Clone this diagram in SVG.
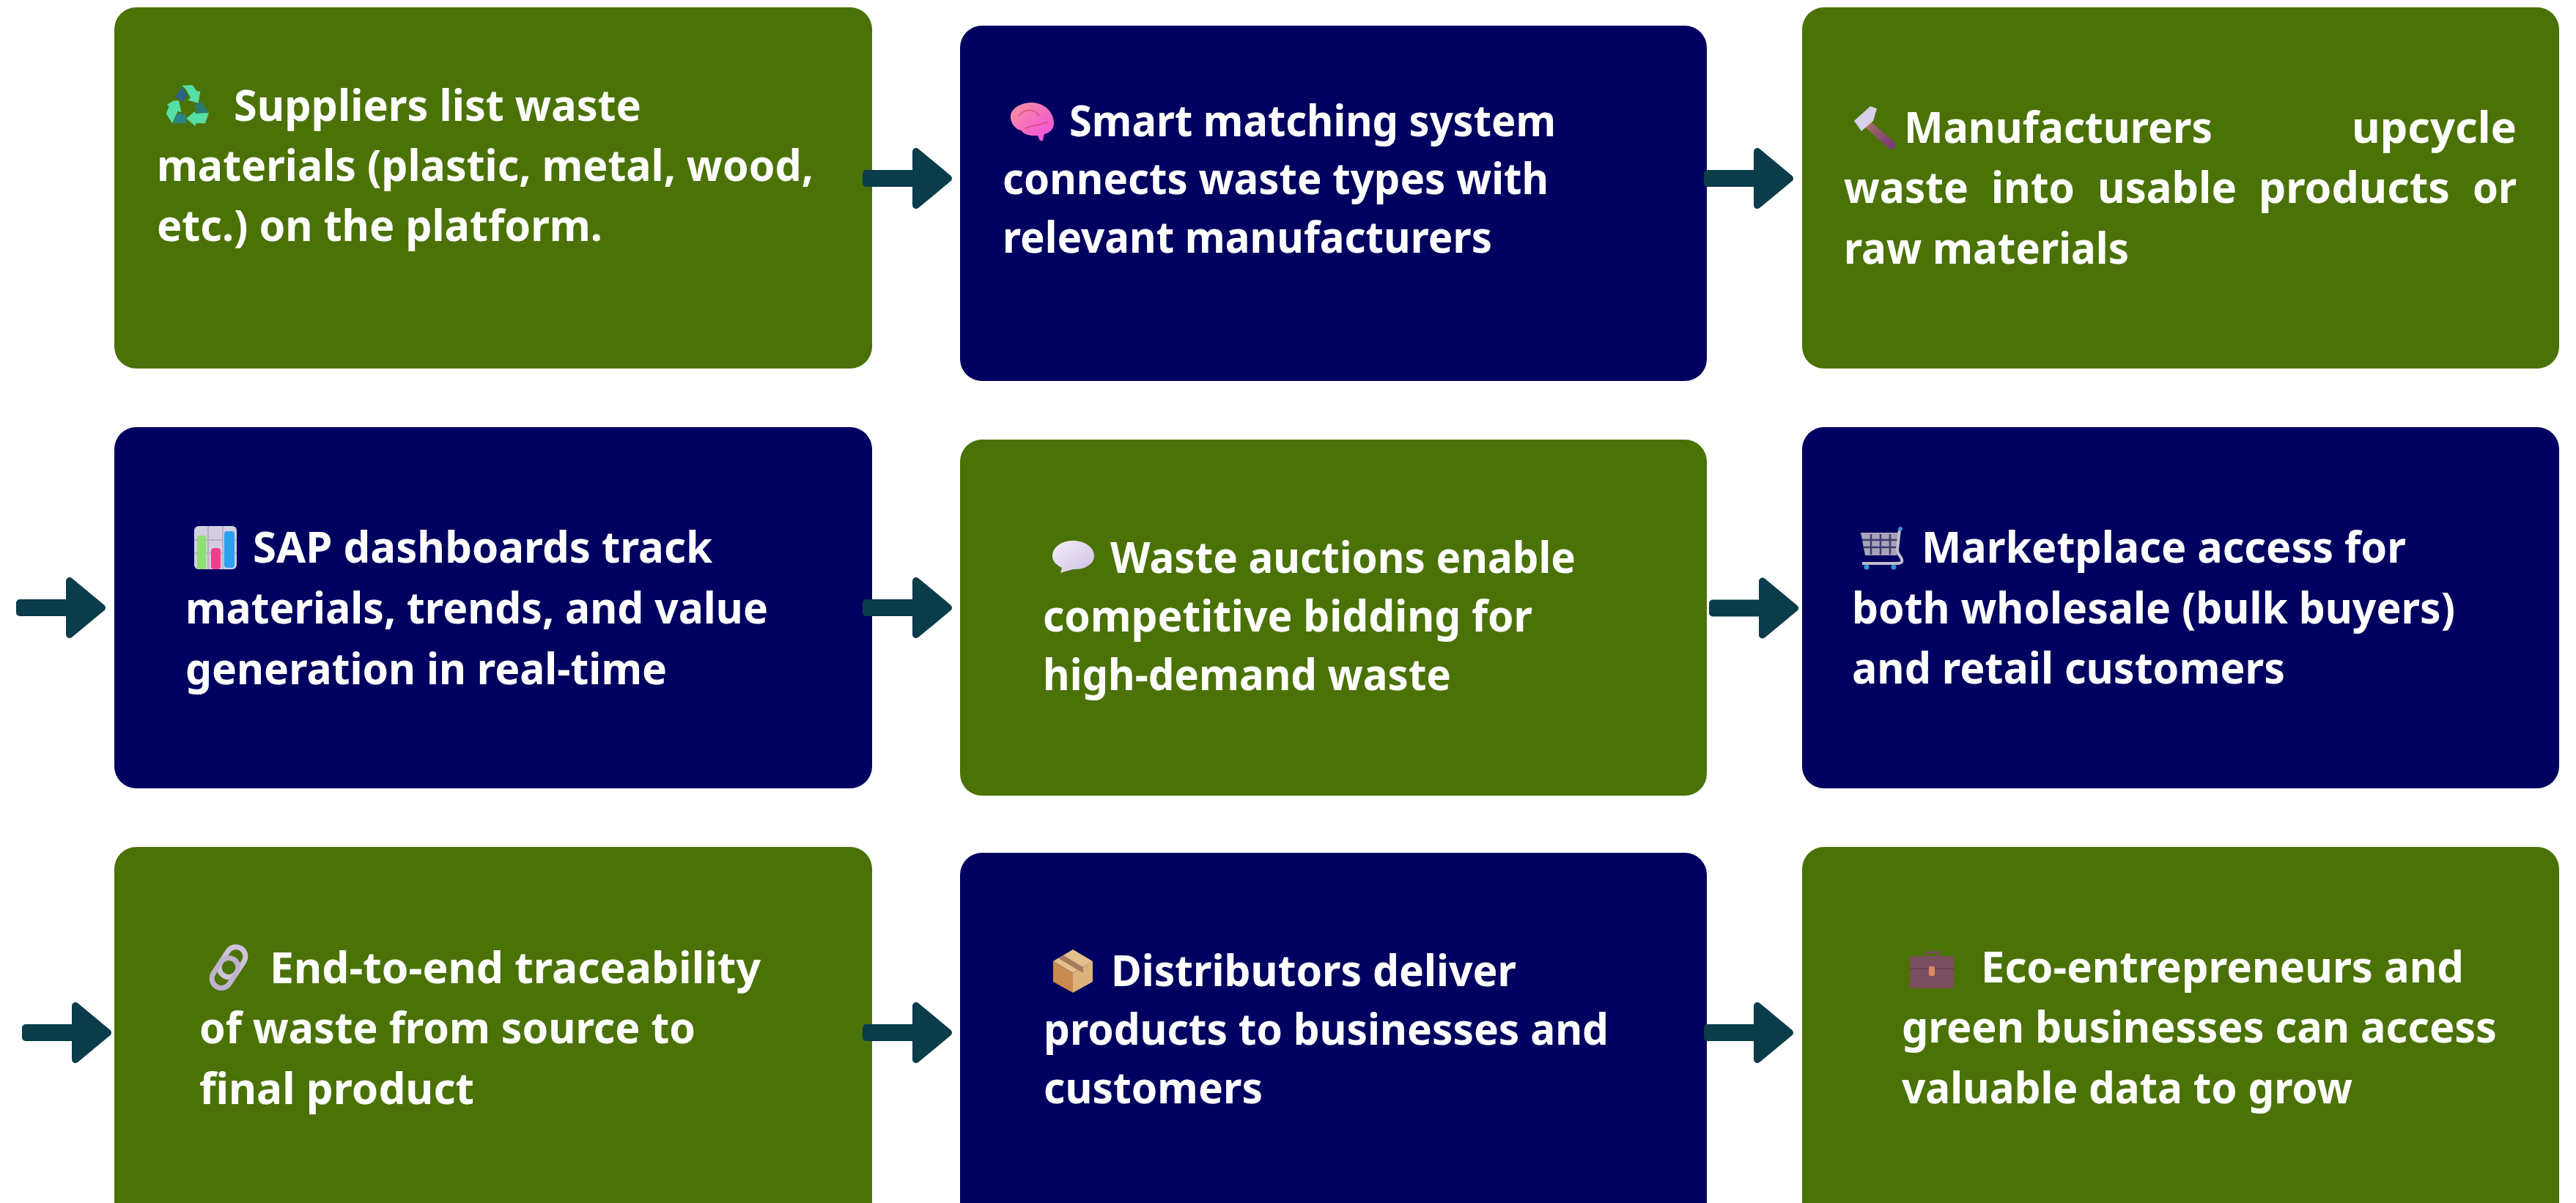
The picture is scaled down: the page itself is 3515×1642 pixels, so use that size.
<svg xmlns="http://www.w3.org/2000/svg" width="3515" height="1642" viewBox="0 0 3515 1642">
<style>
.g{fill:#4b7207}.n{fill:#000060}
.b{rx:30px;ry:30px}
text{font-family:"Noto Sans","Open Sans","Liberation Sans",sans-serif;font-weight:700;font-size:60px;fill:#fff}
.a{fill:#0a3c4a;stroke:#0a3c4a;stroke-width:10;stroke-linejoin:round}
</style>
<defs>
<linearGradient id="brain" x1="0" y1="0" x2="1" y2="1"><stop offset="0" stop-color="#f5969a"/><stop offset=".6" stop-color="#f565c8"/><stop offset="1" stop-color="#f050e0"/></linearGradient>
<linearGradient id="handle" x1="0" y1="0" x2="1" y2="1"><stop offset="0" stop-color="#a07060"/><stop offset="1" stop-color="#7a3a7a"/></linearGradient>
<linearGradient id="bub" x1="0" y1="0" x2="1" y2="1"><stop offset="0" stop-color="#f4eef8"/><stop offset="1" stop-color="#cfc0e6"/></linearGradient>
</defs>
<rect width="3515" height="1642" fill="#fff"/>
<g id="node-suppliers">
<rect class="g b" x="156" y="10" width="1034" height="493"/>
<g transform="translate(200,100) scale(.3333)">
<path fill="#55dfa5" d="M145,50L188,48L205,72L220,74L212,122L168,110L180,100L160,65Z"/>
<path fill="#2c6282" d="M145,55L168,90L150,117L118,97Z"/>
<path fill="#2a7a72" d="M225,115L255,160L205,165L198,130Z"/>
<path fill="#55dfa5" d="M255,162L240,205L202,205L200,217L163,185L198,155L200,165Z"/>
<path fill="#55dfa5" d="M112,112L132,112L142,160L128,155L105,205L80,165L92,135L83,128Z"/>
<path fill="#2e8585" d="M125,165L160,168L162,205L108,205Z"/>
</g>
<text x="319" y="165" textLength="556" lengthAdjust="spacingAndGlyphs">Suppliers list waste</text>
<text x="214" y="247" textLength="896" lengthAdjust="spacingAndGlyphs">materials (plastic, metal, wood,</text>
<text x="214" y="329" textLength="608" lengthAdjust="spacingAndGlyphs">etc.) on the platform.</text>
</g>
<g id="node-matching">
<rect class="n b" x="1310" y="35" width="1019" height="485"/>
<path fill="url(#brain)" d="M1408,140C1426,140 1438,154 1438,168C1438,177 1431,182 1425,183L1423,192L1419,192L1416,185C1406,186 1398,184 1393,178C1384,176 1378,166 1379,157C1381,147 1394,140 1408,140Z"/>
<path fill="none" stroke="#d8507a" stroke-width="1.5" d="M1390,158C1398,148 1412,148 1418,158M1398,176C1405,170 1420,172 1430,166"/>
<text x="1459" y="186" textLength="664" lengthAdjust="spacingAndGlyphs">Smart matching system</text>
<text x="1368" y="265" textLength="745" lengthAdjust="spacingAndGlyphs">connects waste types with</text>
<text x="1368" y="345" textLength="668" lengthAdjust="spacingAndGlyphs">relevant manufacturers</text>
</g>
<g id="node-manufacturers">
<rect class="g b" x="2459" y="10" width="1033" height="493"/>
<path fill="none" stroke="url(#handle)" stroke-width="11" stroke-linecap="round" d="M2548,169L2581,198"/>
<path fill="#d8d0e8" d="M2530,165L2552,145L2561,148L2556,165L2540,179Z"/>
<text x="2598" y="195" textLength="421" lengthAdjust="spacingAndGlyphs">Manufacturers</text>
<text x="3209" y="195" textLength="225" lengthAdjust="spacingAndGlyphs">upcycle</text>
<text x="2516" y="277" textLength="170" lengthAdjust="spacingAndGlyphs">waste</text>
<text x="2717" y="277" textLength="114" lengthAdjust="spacingAndGlyphs">into</text>
<text x="2862" y="277" textLength="190" lengthAdjust="spacingAndGlyphs">usable</text>
<text x="3082" y="277" textLength="261" lengthAdjust="spacingAndGlyphs">products</text>
<text x="3374" y="277" textLength="60" lengthAdjust="spacingAndGlyphs">or</text>
<text x="2516" y="360" textLength="389" lengthAdjust="spacingAndGlyphs">raw materials</text>
</g>
<g id="node-dashboards">
<rect class="n b" x="156" y="583" width="1034" height="493"/>
<rect x="265" y="718" width="58" height="59" rx="6" fill="#d3cfe0"/>
<path stroke="#b5b0c5" stroke-width="2" fill="none" d="M265,737H323M265,755H323M284,718V777M304,718V777"/>
<rect x="269" y="731" width="12" height="46" rx="4" fill="#8ee070"/>
<rect x="288" y="748" width="13" height="29" rx="4" fill="#f0408a"/>
<rect x="306" y="725" width="14" height="50" rx="4" fill="#30a0f0"/>
<text x="345" y="768" textLength="627" lengthAdjust="spacingAndGlyphs">SAP dashboards track</text>
<text x="253" y="851" textLength="795" lengthAdjust="spacingAndGlyphs">materials, trends, and value</text>
<text x="253" y="934" textLength="657" lengthAdjust="spacingAndGlyphs">generation in real-time</text>
</g>
<g id="node-auctions">
<rect class="g b" x="1310" y="600" width="1019" height="486"/>
<path fill="url(#bub)" d="M1464,738C1482,738 1493,748 1493,759C1493,770 1480,778 1464,777L1447,782L1449,775C1441,771 1436,766 1436,759C1436,748 1447,738 1464,738Z"/>
<text x="1515" y="782" textLength="635" lengthAdjust="spacingAndGlyphs">Waste auctions enable</text>
<text x="1423" y="862" textLength="668" lengthAdjust="spacingAndGlyphs">competitive bidding for</text>
<text x="1423" y="942" textLength="557" lengthAdjust="spacingAndGlyphs">high-demand waste</text>
</g>
<g id="node-marketplace">
<rect class="n b" x="2459" y="583" width="1033" height="493"/>
<path fill="#a8a4b8" d="M2539,727H2592L2588,758H2545Z"/>
<path stroke="#3a3a70" stroke-width="2.5" fill="none" d="M2541,737H2590M2542,747H2589M2553,729V757M2566,729V757M2579,729V757"/>
<path fill="none" stroke="#c0bccc" stroke-width="4" d="M2592,723L2589,750C2588,758 2597,760 2595,767C2594,769 2590,769 2586,769H2541"/>
<circle cx="2593" cy="722" r="3" fill="#3a90d0"/>
<circle cx="2547" cy="774" r="3.5" fill="#3a90d0"/>
<circle cx="2584" cy="774" r="3.5" fill="#3a90d0"/>
<text x="2622" y="768" textLength="661" lengthAdjust="spacingAndGlyphs">Marketplace access for</text>
<text x="2527" y="851" textLength="823" lengthAdjust="spacingAndGlyphs">both wholesale (bulk buyers)</text>
<text x="2527" y="933" textLength="591" lengthAdjust="spacingAndGlyphs">and retail customers</text>
</g>
<g id="node-traceability">
<rect class="g b" x="156" y="1156" width="1034" height="540"/>
<rect x="304" y="1291" width="26" height="44" rx="13" transform="rotate(33 317 1313)" fill="none" stroke="#cfc3dc" stroke-width="7"/>
<rect x="294" y="1306" width="26" height="44" rx="13" transform="rotate(33 307 1328)" fill="none" stroke="#bfb3cf" stroke-width="7"/>
<text x="368" y="1342" textLength="670" lengthAdjust="spacingAndGlyphs">End-to-end traceability</text>
<text x="272" y="1424" textLength="677" lengthAdjust="spacingAndGlyphs">of waste from source to</text>
<text x="272" y="1507" textLength="375" lengthAdjust="spacingAndGlyphs">final product</text>
</g>
<g id="node-distributors">
<rect class="n b" x="1310" y="1164" width="1019" height="540"/>
<path fill="#e4c08c" d="M1464,1296L1491,1312L1464,1328L1437,1312Z"/>
<path fill="#c98a50" d="M1437,1312L1464,1328V1355L1437,1340Z"/>
<path fill="#deb27c" d="M1491,1312V1340L1464,1355V1328Z"/>
<path fill="#a87a5c" d="M1451,1304L1478,1320V1328L1471,1324L1444,1308Z"/>
<text x="1516" y="1346" textLength="553" lengthAdjust="spacingAndGlyphs">Distributors deliver</text>
<text x="1424" y="1426" textLength="771" lengthAdjust="spacingAndGlyphs">products to businesses and</text>
<text x="1424" y="1506" textLength="299" lengthAdjust="spacingAndGlyphs">customers</text>
</g>
<g id="node-entrepreneurs">
<rect class="g b" x="2459" y="1156" width="1033" height="540"/>
<path fill="none" stroke="#7a4f5f" stroke-width="3" d="M2628,1305V1300H2644V1305"/>
<rect x="2606" y="1305" width="60" height="44" rx="3" fill="#7a4f5f"/>
<path stroke="#633f50" stroke-width="1.5" d="M2606,1322H2666"/>
<rect x="2632" y="1319" width="8" height="13" rx="2" fill="#e08a60"/>
<text x="2703" y="1341" textLength="659" lengthAdjust="spacingAndGlyphs">Eco-entrepreneurs and</text>
<text x="2595" y="1423" textLength="812" lengthAdjust="spacingAndGlyphs">green businesses can access</text>
<text x="2595" y="1506" textLength="615" lengthAdjust="spacingAndGlyphs">valuable data to grow</text>
</g>
<g id="connectors">
<path class="a" d="M1182,237h68v-30l44,36.5l-44,36.5v-30h-68z"/>
<path class="a" d="M2330,237h68v-30l44,36.5l-44,36.5v-30h-68z"/>
<path class="a" d="M27,823h68v-30l44,36.5l-44,36.5v-30h-68z"/>
<path class="a" d="M1182,823h68v-30l44,36.5l-44,36.5v-30h-68z"/>
<path class="a" d="M2337,823.5h68v-30l44,36.5l-44,36.5v-30h-68z"/>
<path class="a" d="M35,1403h68v-30l44,36.5l-44,36.5v-30h-68z"/>
<path class="a" d="M1182,1403h68v-30l44,36.5l-44,36.5v-30h-68z"/>
<path class="a" d="M2330,1403h68v-30l44,36.5l-44,36.5v-30h-68z"/>
</g>
</svg>
